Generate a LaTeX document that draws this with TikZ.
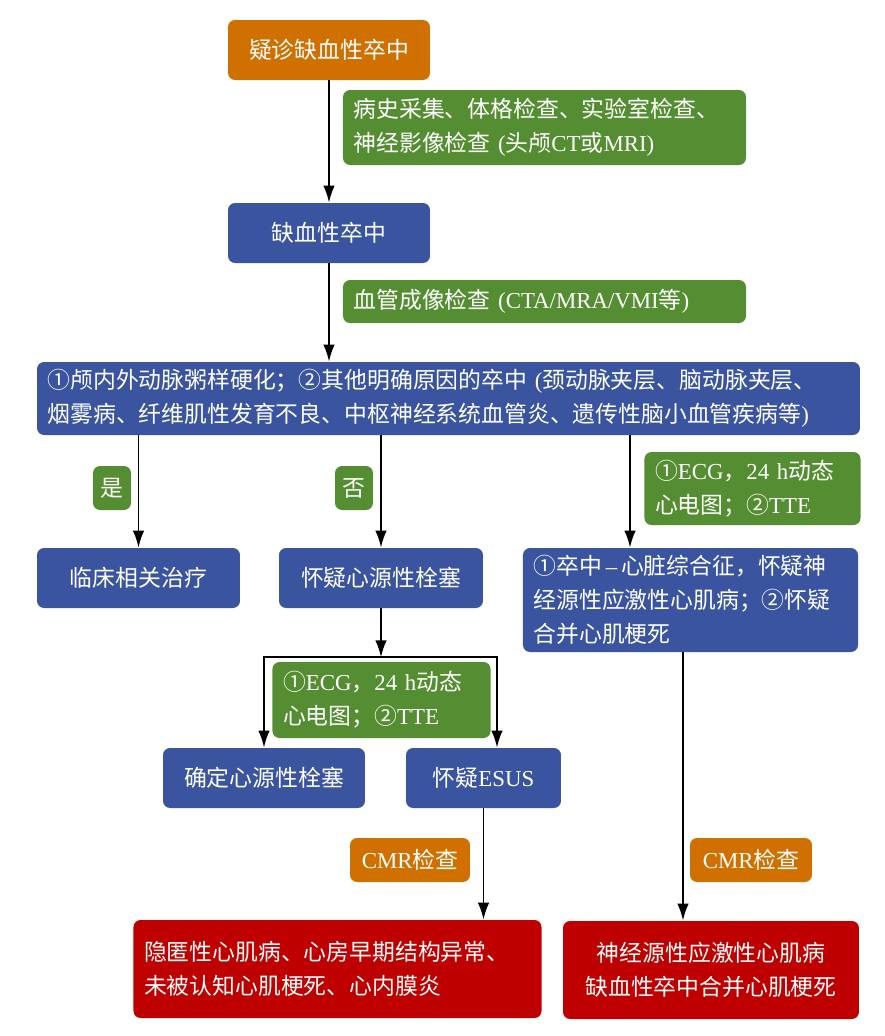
\documentclass[tikz,border=0pt]{standalone}
\usepackage{fontspec}
\setmainfont{Noto Sans CJK SC}
\newfontfamily\tnr{Liberation Serif}
\usetikzlibrary{positioning,arrows.meta,calc}
\definecolor{ink}{HTML}{3A54A0}
\definecolor{amber}{HTML}{D07000}
\definecolor{green}{HTML}{558D32}
\definecolor{accent}{HTML}{BE0000}
\tikzset{
  box/.style={fill=ink,rounded corners=4pt,text=white,inner xsep=6pt,inner ysep=3pt,align=center,font=\fontsize{13pt}{19.5pt}\selectfont},
  amberbox/.style={box,fill=amber},
  greenbox/.style={box,fill=green},
  redbox/.style={box,fill=accent},
  flow/.style={-{Latex[length=3.4mm,width=2.3mm]},draw=black,line width=1.1pt}}
\begin{document}
\begin{tikzpicture}[x=0.02cm,y=-0.02cm]
  \fill[white] (0,0) rectangle (885,1036);
  \useasboundingbox (0,0) rectangle (885,1036);
  % top: diagnosis
  \node[amberbox,minimum width=4.04cm,minimum height=1.2cm] (suspect) at (329,50) {疑诊缺血性卒中};
  \node[greenbox,minimum width=8.06cm,minimum height=1.5cm,text width=7.64cm,align=left] (exam) at (544.5,127.5) {病史采集、体格检查、实验室检查、\\神经影像检查{\tnr\ (}头颅{\tnr CT}或{\tnr MRI)}};
  \node[box,minimum width=4.04cm,minimum height=1.2cm] (stroke) at (329,233) {缺血性卒中};
  \node[greenbox,minimum width=8.06cm,minimum height=0.86cm,text width=7.64cm,align=left] (imaging) at (544.5,301.5) {血管成像检查{\tnr\ (CTA/MRA/VMI}等{\tnr )}};
  \node[box,minimum width=16.46cm,minimum height=1.46cm,text width=16.04cm,align=left] (cause) at (448.5,398.5) {①颅内外动脉粥样硬化；②其他明确原因的卒中{\tnr\ (}颈动脉夹层、脑动脉夹层、\\烟雾病、纤维肌性发育不良、中枢神经系统血管炎、遗传性脑小血管疾病等{\tnr )}};
  % middle: three branches
  \node[greenbox,minimum width=0.76cm,minimum height=0.88cm,inner xsep=2pt] (yes) at (112,488) {是};
  \node[greenbox,minimum width=0.76cm,minimum height=0.88cm,inner xsep=2pt] (no) at (354,488) {否};
  \node[greenbox,minimum width=4.3cm,minimum height=1.46cm,text width=3.9cm,align=left] (ecgright) at (752.5,488.5) {①{\tnr ECG}，{\tnr 24 h}动态\\心电图；②{\tnr TTE}};
  \node[box,minimum width=4.06cm,minimum height=1.2cm] (treat) at (138.5,578) {临床相关治疗};
  \node[box,minimum width=4.08cm,minimum height=1.2cm] (cardio) at (381,578) {怀疑心源性栓塞};
  \node[box,minimum width=6.7cm,minimum height=2.08cm,text width=6.28cm,align=left,inner ysep=1pt] (heart) at (690.5,600) {①卒中{\tnr\,–\,}心脏综合征，怀疑神\\经源性应激性心肌病；②怀疑\\合并心肌梗死};
  \draw[flow] (suspect) -- (stroke);
  \draw[flow] (stroke) -- (stroke |- cause.north);
  \draw[flow] (treat |- cause.south) -- (treat);
  \draw[flow] (cardio |- cause.south) -- (cardio);
  \coordinate (tapright) at ([xshift=-1.21cm]heart.north);
  \draw[flow] (tapright |- cause.south) -- (tapright);
  % cardioembolic split
  \coordinate (split) at ([yshift=-0.98cm]cardio.south);
  \node[greenbox,minimum width=4.34cm,minimum height=1.52cm,text width=3.94cm,align=left] (ecgmid) at (381.5,700) {①{\tnr ECG}，{\tnr 24 h}动态\\心电图；②{\tnr TTE}};
  \node[box,minimum width=4.04cm,minimum height=1.2cm] (sure) at (264,778) {确定心源性栓塞};
  \node[box,minimum width=3.1cm,minimum height=1.2cm] (esus) at (483.5,778) {怀疑{\tnr ESUS}};
  \coordinate (tapesus) at ([xshift=0.27cm]esus.north);
  \draw[flow] (cardio) -- (split);
  \draw[flow] (split) -| (sure);
  \draw[flow] (split) -| (tapesus);
  % bottom: CMR
  \node[amberbox,minimum width=2.4cm,minimum height=0.88cm] (cmrleft) at (410,860) {{\tnr CMR}检查};
  \node[amberbox,minimum width=2.44cm,minimum height=0.88cm] (cmrright) at (751,860) {{\tnr CMR}检查};
  \node[redbox,minimum width=8.14cm,minimum height=1.96cm,text width=7.74cm,align=left] (hidden) at (337.5,969) {隐匿性心肌病、心房早期结构异常、\\未被认知心肌梗死、心内膜炎};
  \node[redbox,minimum width=5.92cm,minimum height=1.96cm] (neuro) at (711,970) {神经源性应激性心肌病\\缺血性卒中合并心肌梗死};
  \draw[flow] (esus) -- (esus |- hidden.north);
  \coordinate (tapheart) at ([xshift=-0.15cm]heart.south);
  \draw[flow] (tapheart) -- (tapheart |- neuro.north);
\end{tikzpicture}
\end{document}
